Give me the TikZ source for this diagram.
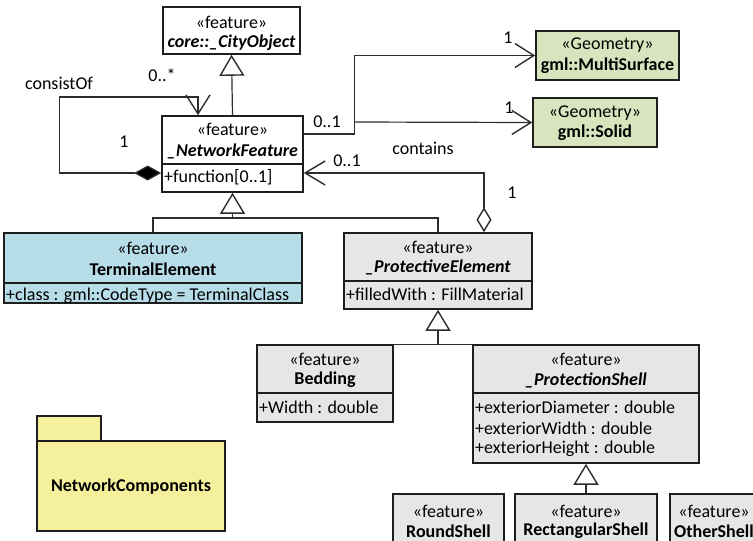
\documentclass[tikz,border=0pt]{standalone}
\usepackage{fontspec}
\setmainfont{Carlito}
\usetikzlibrary{arrows.meta,fit}

\definecolor{clsgray}{RGB}{230,230,230}
\definecolor{clsblue}{RGB}{183,221,232}
\definecolor{geomgreen}{RGB}{215,228,189}
\definecolor{pkgyellow}{RGB}{245,240,155}
\definecolor{edge}{RGB}{30,30,30}
\definecolor{wire}{RGB}{45,45,45}

\newcommand{\umlfont}{\fontsize{18}{21}\selectfont}

\tikzset{
  cls/.style={draw=edge, line width=1.6pt, inner sep=0pt},
  divider/.style={draw=edge, line width=1.6pt},
  stereo/.style={inner sep=0pt, font=\umlfont},
  cname/.style={inner sep=0pt, font=\umlfont\bfseries},
  aname/.style={inner sep=0pt, font=\umlfont\bfseries\itshape},
  attr/.style={inner sep=0pt, anchor=west, font=\umlfont},
  lbl/.style={inner sep=0pt, font=\umlfont},
  conn/.style={draw=wire, line width=1.2pt},
  gen/.style={conn, -{Triangle[open, length=21pt, width=25pt, fill=white, line width=1.4pt]}},
  nav/.style={conn, -{Straight Barb[length=19pt, width=24pt, line width=1.4pt]}},
  comp/.style={conn, {Diamond[length=27pt, width=15pt, fill=black]}-{Straight Barb[length=19pt, width=24pt, line width=1.4pt]}},
  aggr/.style={conn, {Diamond[open, length=25pt, width=15pt, fill=white, line width=1.4pt]}-{Straight Barb[length=20pt, width=24pt, line width=1.4pt]}},
}

\begin{document}
\begin{tikzpicture}[x=1pt, y=-1pt]
  \useasboundingbox (0,0) rectangle (753,541);
  \clip (0,0) rectangle (753,541);

  % core::_CityObject
  \node[cls, fill=white, fit={(163,7) (300,54)}] (city) {};
  \node[stereo] at (231.5,22) {«feature»};
  \node[aname] at (231.5,43) {core::\_CityObject};

  % _NetworkFeature
  \node[cls, fill=white, fit={(162,116) (303,192)}] (nf) {};
  \draw[divider] (162,164) -- (303,164);
  \node[stereo] at (232.5,129) {«feature»};
  \node[aname] at (232.5,151) {\_NetworkFeature};
  \node[attr] at (164,177) {+function[0..1]};

  % Geometry classes
  \node[cls, fill=geomgreen, fit={(536,31) (679,80)}] (ms) {};
  \node[stereo] at (607.5,45) {«Geometry»};
  \node[cname] at (607.5,66) {gml::MultiSurface};

  \node[cls, fill=geomgreen, fit={(533,98) (657,147)}] (solid) {};
  \node[stereo] at (595,113) {«Geometry»};
  \node[cname] at (595,133) {gml::Solid};

  % TerminalElement
  \node[cls, fill=clsblue, fit={(4,233) (302,303)}] (te) {};
  \draw[divider] (4,283) -- (302,283);
  \node[stereo] at (153,248) {«feature»};
  \node[cname] at (153,269) {TerminalElement};
  \node[attr] at (6,296) {+class : gml::CodeType = TerminalClass};

  % _ProtectiveElement
  \node[cls, fill=clsgray, fit={(344,233) (532,309)}] (pe) {};
  \draw[divider] (344,281) -- (532,281);
  \node[stereo] at (438,247) {«feature»};
  \node[aname] at (438,267) {\_ProtectiveElement};
  \node[attr] at (346,294) {+filledWith : FillMaterial};

  % Bedding
  \node[cls, fill=clsgray, fit={(257,345) (393,422)}] (bed) {};
  \draw[divider] (257,393) -- (393,393);
  \node[stereo] at (325,359) {«feature»};
  \node[cname] at (325,380) {Bedding};
  \node[attr] at (259,407) {+Width : double};

  % _ProtectionShell
  \node[cls, fill=clsgray, fit={(473,345) (699,463)}] (ps) {};
  \draw[divider] (473,393) -- (699,393);
  \node[stereo] at (586,359) {«feature»};
  \node[aname] at (586,380) {\_ProtectionShell};
  \node[attr] at (475,407) {+exteriorDiameter : double};
  \node[attr] at (475,428) {+exteriorWidth : double};
  \node[attr] at (475,449) {+exteriorHeight : double};

  % Concrete shells
  \node[cls, fill=clsgray, fit={(393,494) (504,570)}] (round) {};
  \node[stereo] at (448.5,511) {«feature»};
  \node[cname] at (448.5,531) {RoundShell};

  \node[cls, fill=clsgray, fit={(515,494) (657,570)}] (rect) {};
  \node[stereo] at (586,511) {«feature»};
  \node[cname] at (586,531) {RectangularShell};

  \node[cls, fill=clsgray, fit={(670,494) (758,570)}] (other) {};
  \node[stereo] at (714,511) {«feature»};
  \node[cname] at (714,531) {OtherShell};

  % Package
  \draw[cls, fill=pkgyellow] (37,416) rectangle (101,441);
  \node[cls, fill=pkgyellow, fit={(37,441) (225,531)}] (pkg) {};
  \node[cname] at (131,487) {NetworkComponents};

  % Generalizations
  \draw[gen] (nf.north) -- (city.south);
  \coordinate (g1) at (232.5,218);
  \draw[conn] (te.north) |- (g1) -| (pe.north);
  \draw[gen] (g1) -- (nf.south);
  \coordinate (g2) at (438,345);
  \draw[conn] (bed.north east) -- (ps.north west);
  \draw[gen] (g2) -- (pe.south);
  \draw[gen] (rect.north) -- (ps.south);

  % consistOf (composition)
  \draw[comp] ([yshift=-19pt]nf.west) -- ++(-102,0) |- (198,97) -- ([xshift=-34.5pt]nf.north);
  \node[lbl] at (59,83) {consistOf};
  \node[lbl] at (162,75) {0..*};
  \node[lbl] at (124,142) {1};

  % geometry associations
  \coordinate (br) at (354,122);
  \draw[nav] ([yshift=20pt]nf.east) -- ++(51,0) |- (ms.west);
  \draw[nav] (br) -- (solid.west);
  \node[lbl] at (327,122) {0..1};
  \node[lbl] at (508,38) {1};
  \node[lbl] at (509,108) {1};

  % contains (aggregation)
  \draw[aggr] ([xshift=46pt]pe.north) |- ([yshift=-19pt]nf.east);
  \node[lbl] at (423,148) {contains};
  \node[lbl] at (347,161) {0..1};
  \node[lbl] at (512,193) {1};
\end{tikzpicture}
\end{document}
